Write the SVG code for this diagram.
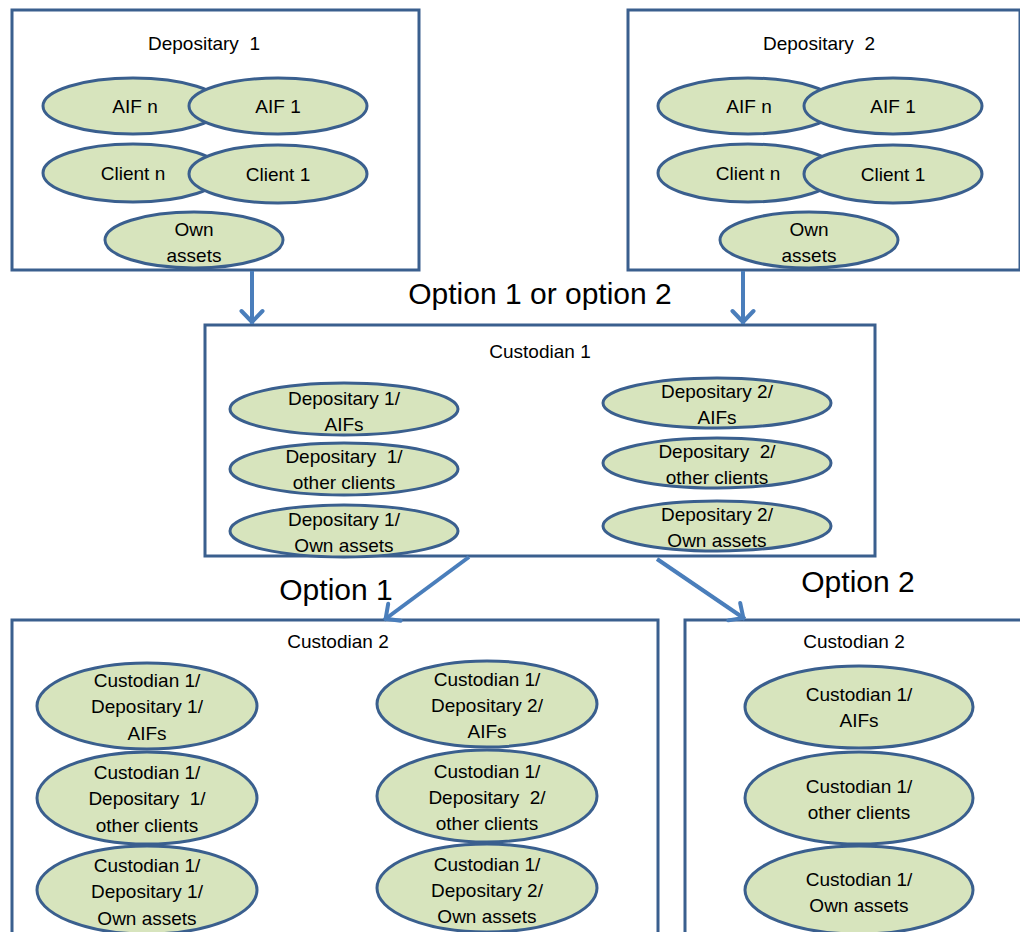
<svg xmlns="http://www.w3.org/2000/svg" width="1020" height="932" viewBox="0 0 1020 932">
<style>
.box{fill:#fff;stroke:#3A5F8E;stroke-width:3}
.el{fill:#D7E4BD;stroke:#3A5F8E;stroke-width:3}
text{font-family:"Liberation Sans",Arial,sans-serif;font-size:19px;fill:#000;text-anchor:middle;white-space:pre}
.big{font-size:30px}
.con{stroke:#4A7EBB;stroke-width:4;fill:none;marker-end:url(#ah)}
</style>
<defs>
<marker id="ah" viewBox="-16 -13 20 26" refX="0" refY="0" markerWidth="20" markerHeight="26" orient="auto" markerUnits="userSpaceOnUse">
<path d="M-13,-10.5 L-2,0 L-13,10.5" fill="none" stroke="#4A7EBB" stroke-width="4" stroke-linecap="round" stroke-linejoin="round"/>
</marker>
</defs>
<g id="dep1">
<rect class="box" x="12" y="10" width="407" height="260"/>
<text x="204" y="50">Depositary  1</text>
<ellipse class="el" cx="133" cy="106" rx="90" ry="28"/>
<ellipse class="el" cx="278" cy="106" rx="89" ry="28"/>
<ellipse class="el" cx="133" cy="173" rx="90" ry="29"/>
<ellipse class="el" cx="278" cy="174" rx="89" ry="29"/>
<ellipse class="el" cx="194" cy="240" rx="89" ry="28"/>
<text x="135" y="113">AIF n</text>
<text x="278" y="113">AIF 1</text>
<text x="133" y="180">Client n</text>
<text x="278" y="181">Client 1</text>
<text x="194" y="236">Own</text>
<text x="194" y="262">assets</text>
</g>
<g id="dep2">
<rect class="box" x="628" y="10" width="392" height="260"/>
<text x="819" y="50">Depositary  2</text>
<ellipse class="el" cx="748" cy="106" rx="90" ry="28"/>
<ellipse class="el" cx="893" cy="106" rx="89" ry="28"/>
<ellipse class="el" cx="748" cy="173" rx="90" ry="29"/>
<ellipse class="el" cx="893" cy="174" rx="89" ry="29"/>
<ellipse class="el" cx="809" cy="240" rx="89" ry="28"/>
<text x="749" y="113">AIF n</text>
<text x="893" y="113">AIF 1</text>
<text x="748" y="180">Client n</text>
<text x="893" y="181">Client 1</text>
<text x="809" y="236">Own</text>
<text x="809" y="262">assets</text>
</g>
<g id="cust1">
<rect class="box" x="205" y="325" width="670" height="231"/>
<text x="540" y="358">Custodian 1</text>
<ellipse class="el" cx="344" cy="409" rx="114" ry="26"/>
<ellipse class="el" cx="344" cy="469" rx="114" ry="26"/>
<ellipse class="el" cx="344" cy="531" rx="114" ry="26"/>
<ellipse class="el" cx="717" cy="403" rx="114" ry="25"/>
<ellipse class="el" cx="717" cy="463" rx="114" ry="25"/>
<ellipse class="el" cx="717" cy="526" rx="114" ry="25"/>
<text x="344" y="405">Depositary 1/</text>
<text x="344" y="431">AIFs</text>
<text x="344" y="463">Depositary  1/</text>
<text x="344" y="489">other clients</text>
<text x="344" y="526">Depositary 1/</text>
<text x="344" y="552">Own assets</text>
<text x="717" y="398">Depositary 2/</text>
<text x="717" y="424">AIFs</text>
<text x="717" y="458">Depositary  2/</text>
<text x="717" y="484">other clients</text>
<text x="717" y="521">Depositary 2/</text>
<text x="717" y="547">Own assets</text>
</g>
<g id="cust2a">
<rect class="box" x="12" y="620" width="646" height="330"/>
<text x="338" y="648">Custodian 2</text>
<ellipse class="el" cx="147" cy="706" rx="110" ry="43"/>
<ellipse class="el" cx="147" cy="798" rx="110" ry="46"/>
<ellipse class="el" cx="147" cy="890" rx="110" ry="44"/>
<ellipse class="el" cx="487" cy="704" rx="110" ry="43"/>
<ellipse class="el" cx="487" cy="796" rx="110" ry="46"/>
<ellipse class="el" cx="487" cy="888" rx="110" ry="44"/>
<text x="147" y="687">Custodian 1/</text>
<text x="147" y="713">Depositary 1/</text>
<text x="147" y="740">AIFs</text>
<text x="147" y="779">Custodian 1/</text>
<text x="147" y="805">Depositary  1/</text>
<text x="147" y="832">other clients</text>
<text x="147" y="872">Custodian 1/</text>
<text x="147" y="898">Depositary 1/</text>
<text x="147" y="925">Own assets</text>
<text x="487" y="686">Custodian 1/</text>
<text x="487" y="712">Depositary 2/</text>
<text x="487" y="738">AIFs</text>
<text x="487" y="778">Custodian 1/</text>
<text x="487" y="804">Depositary  2/</text>
<text x="487" y="830">other clients</text>
<text x="487" y="871">Custodian 1/</text>
<text x="487" y="897">Depositary 2/</text>
<text x="487" y="923">Own assets</text>
</g>
<g id="cust2b">
<rect class="box" x="685" y="620" width="340" height="330"/>
<text x="854" y="648">Custodian 2</text>
<ellipse class="el" cx="859" cy="707" rx="114" ry="41"/>
<ellipse class="el" cx="859" cy="798" rx="114" ry="46"/>
<ellipse class="el" cx="859" cy="890" rx="114" ry="44"/>
<text x="859" y="701">Custodian 1/</text>
<text x="859" y="727">AIFs</text>
<text x="859" y="793">Custodian 1/</text>
<text x="859" y="819">other clients</text>
<text x="859" y="886">Custodian 1/</text>
<text x="859" y="912">Own assets</text>
</g>
<g id="labels">
<text class="big" x="540" y="304">Option 1 or option 2</text>
<text class="big" x="336" y="600">Option 1</text>
<text class="big" x="858" y="592">Option 2</text>
</g>
<g id="connectors">
<path class="con" d="M252,271 L252,324"/>
<path class="con" d="M743,271 L743,324"/>
<path class="con" d="M469,557 L384,620"/>
<path class="con" d="M657,559 L745,619"/>
</g>
</svg>
